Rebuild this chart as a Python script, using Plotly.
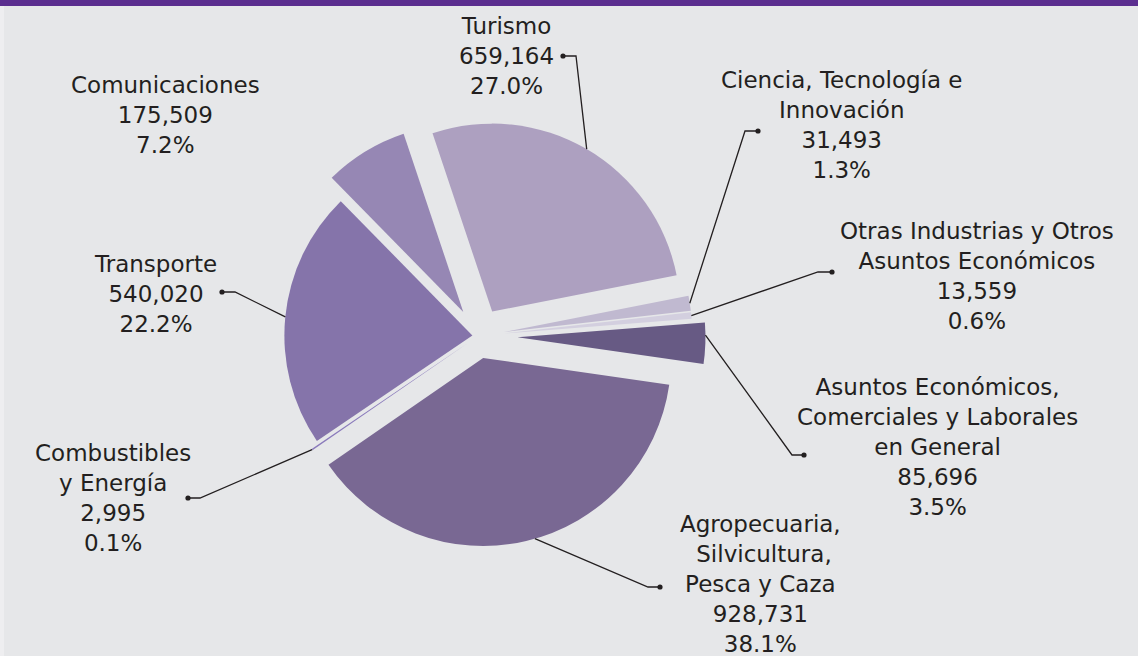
import math
import plotly.graph_objects as go

# data
sectors = [
    "Turismo",
    "Ciencia, Tecnología e<br>Innovación",
    "Otras Industrias y Otros<br>Asuntos Económicos",
    "Asuntos Económicos,<br>Comerciales y Laborales<br>en General",
    "Agropecuaria,<br> Silvicultura,<br>Pesca y Caza",
    "Combustibles<br>y Energía",
    "Transporte",
    "Comunicaciones",
]
amounts = [659164, 31493, 13559, 85696, 928731, 2995, 540020, 175509]

# styling
colors = ["#ada0c0", "#c0b9d0", "#d3cfdf", "#675a84", "#796893", "#8a7abb", "#8574aa", "#9687b4"]
pulls = [0.15, 0.14, 0.14, 0.21, 0.12, 0.07, 0.03, 0.15]
rotation = -18.5

W, H = 1138, 656
CX, CY, R = 478, 336, 188          # pie centre / radius in pixels
TXT = "#231f20"
FONT = "DejaVu Sans"

# label block centres (px) and leader elbows: (dot x, dot y, elbow x), None = no leader
label_pos = [(506, 56), (842, 125), (977, 276), (937, 447), (760, 584), (113, 498), (155, 294), (165, 115)]
leaders = [(563, 56, 576), (758, 131, 745), (832, 272, 818), (804, 455, 792),
           (660, 587, 648), (188, 498, 200), (222, 292, 235), None]
anchor_frac = [0.5, 0.5, 0.5, 0.3, 0.48, 0.5, 0.5, 0.5]

total = sum(amounts)
half = R * (1 + max(pulls))


def px(x):
    return x / W


def py(y):
    return 1 - y / H


fig = go.Figure(go.Pie(
    labels=[s.replace("<br>", " ") for s in sectors],
    values=amounts,
    sort=False,
    direction="clockwise",
    rotation=rotation,
    pull=pulls,
    marker=dict(colors=colors, line=dict(width=0)),
    textinfo="none",
    showlegend=False,
    domain=dict(x=[px(CX - half), px(CX + half)], y=[py(CY + half), py(CY - half)]),
))

shapes = [
    dict(type="rect", xref="paper", yref="paper", x0=0, x1=1, y0=py(6), y1=1,
         fillcolor="#5b2e8f", line=dict(width=0), layer="below"),
    dict(type="rect", xref="paper", yref="paper", x0=0, x1=px(4), y0=0, y1=py(6),
         fillcolor="#eeeef0", line=dict(width=0), layer="below"),
]
annotations = []

cum = 0
for i, v in enumerate(amounts):
    ang = math.radians(rotation + (cum + v * anchor_frac[i]) / total * 360)
    mid = math.radians(rotation + (cum + v / 2) / total * 360)
    cum += v
    pct = v / total * 100
    annotations.append(dict(
        x=px(label_pos[i][0]), y=py(label_pos[i][1]), xref="paper", yref="paper",
        text=f"{sectors[i]}<br>{v:,}<br>{pct:.1f}%", showarrow=False,
        xanchor="center", yanchor="middle", align="center",
        font=dict(family=FONT, size=23, color=TXT),
    ))
    if leaders[i] is None:
        continue
    # point on the outer edge of the pulled slice
    ox = CX + R * pulls[i] * math.sin(mid)
    oy = CY - R * pulls[i] * math.cos(mid)
    ax = ox + R * math.sin(ang)
    ay = oy - R * math.cos(ang)
    dx, dy, ex = leaders[i]
    shapes.append(dict(
        type="path", xref="paper", yref="paper",
        path=f"M {px(ax)},{py(ay)} L {px(ex)},{py(dy)} L {px(dx)},{py(dy)}",
        line=dict(color=TXT, width=1.3),
    ))
    shapes.append(dict(
        type="circle", xref="paper", yref="paper",
        x0=px(dx - 2.6), x1=px(dx + 2.6), y0=py(dy + 2.6), y1=py(dy - 2.6),
        fillcolor=TXT, line=dict(width=0),
    ))

fig.update_layout(
    width=W, height=H,
    margin=dict(l=0, r=0, t=0, b=0),
    paper_bgcolor="#e6e7e9",
    plot_bgcolor="#e6e7e9",
    shapes=shapes,
    annotations=annotations,
)

fig.write_html("out.html", config={"displayModeBar": False},
               post_script="document.body.style.margin='0px';")
